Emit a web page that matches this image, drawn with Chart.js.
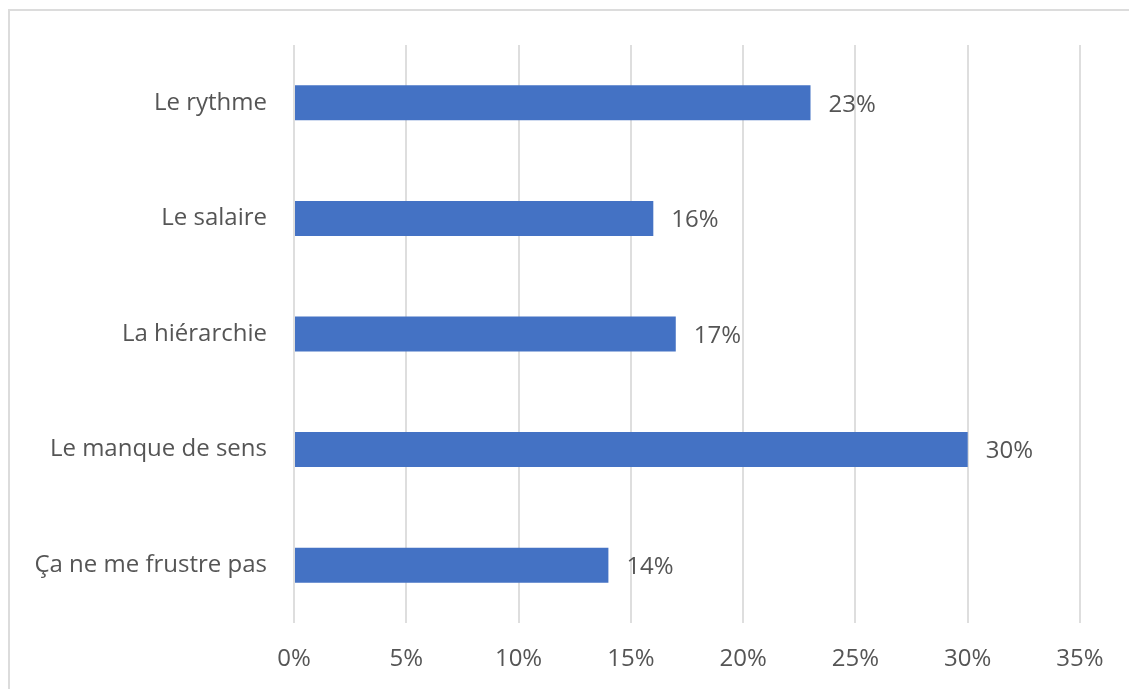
<!DOCTYPE html>
<html>
<head>
<meta charset="utf-8">
<script src="https://cdn.jsdelivr.net/npm/chart.js@4"></script>
<style>
  body { margin: 0; background: #fff; }
  #wrap { position: relative; width: 1129px; height: 689px; overflow: hidden; }
  #frame { position: absolute; left: 8px; top: 9px; width: 1200px; height: 800px;
           border-top: 2px solid #dcdcdc; border-left: 2px solid #dcdcdc; }
  #chart { position: absolute; left: 0; top: 0; }
</style>
</head>
<body>
<div id="wrap">
  <div id="frame"></div>
  <canvas id="chart" width="1129" height="689"></canvas>
</div>
<script>
// DATA
const categories = ['Le rythme', 'Le salaire', 'La hiérarchie', 'Le manque de sens', 'Ça ne me frustre pas'];
const shares = [23, 16, 17, 30, 14];
const tickValues = [0, 5, 10, 15, 20, 25, 30, 35];

const TEXT = '#555555';
const FONT = { family: '"Open Sans", sans-serif', size: 24 };

// value labels to the right of each bar
const valueLabels = {
    id: 'valueLabels',
    afterDatasetsDraw(chart) {
        const ctx = chart.ctx;
        const meta = chart.getDatasetMeta(0);
        ctx.save();
        ctx.font = FONT.size + 'px ' + FONT.family;
        ctx.fillStyle = TEXT;
        ctx.textAlign = 'left';
        ctx.textBaseline = 'middle';
        meta.data.forEach((bar, i) => {
            ctx.fillText(shares[i] + '%', bar.x + 18, bar.y + 2);
        });
        ctx.restore();
    }
};

new Chart(document.getElementById('chart').getContext('2d'), {
    type: 'bar',
    data: {
        labels: categories,
        datasets: [{
            data: shares,
            backgroundColor: '#4472C4',
            barPercentage: 0.6,
            categoryPercentage: 0.505
        }]
    },
    options: {
        indexAxis: 'y',
        responsive: false,
        animation: false,
        layout: { padding: { top: 45, right: 49, left: 0, bottom: 0 } },
        plugins: { legend: { display: false }, tooltip: { enabled: false } },
        scales: {
            x: {
                min: 0,
                max: 35,
                afterBuildTicks: scale => { scale.ticks = tickValues.map(v => ({ value: v })); },
                afterFit: scale => { scale.height = 66; },
                grid: { color: '#dedede', lineWidth: 2, drawTicks: false },
                border: { display: false },
                ticks: { color: TEXT, font: FONT, padding: 22, callback: v => v + '%' }
            },
            y: {
                afterFit: scale => { scale.width = 294; },
                grid: { display: false, drawTicks: false },
                border: { display: false },
                ticks: { color: TEXT, font: FONT, padding: 27 }
            }
        }
    },
    plugins: [valueLabels]
});
</script>
</body>
</html>
